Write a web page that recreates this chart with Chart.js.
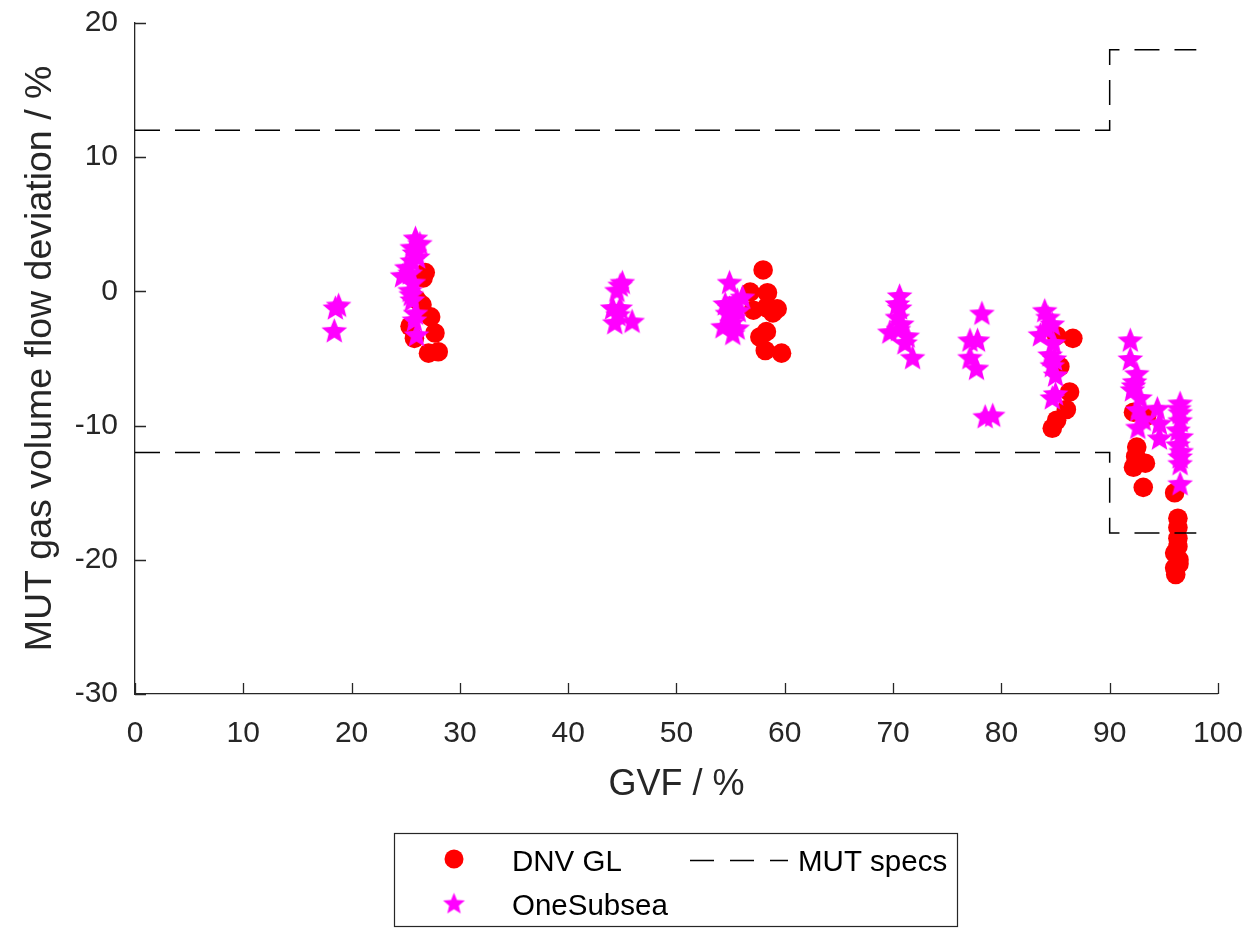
<!DOCTYPE html>
<html>
<head>
<meta charset="utf-8">
<title>MUT gas volume flow deviation</title>
<script src="https://cdn.jsdelivr.net/npm/chart.js@4.4.1/dist/chart.umd.min.js"></script>
<style>
  html, body { margin: 0; padding: 0; background: #fff; }
  canvas { display: block; }
</style>
</head>
<body>
<canvas id="chart" width="1256" height="929"></canvas>
<script>
// DNV GL measurements (GVF %, deviation %)
const dnvGvf = [
  26.8, 26.6, 26.0, 26.5, 27.3, 25.4, 27.7, 25.8, 28.0, 27.1,
  58.0, 56.8, 58.4, 57.1, 58.3, 59.3, 58.9, 57.7, 58.3, 58.2, 59.7,
  85.1, 86.6, 85.4, 86.3, 86.0, 85.1, 84.7,
  92.2, 93.4, 92.5, 92.4, 93.3, 92.2, 93.1,
  96.0, 96.3, 96.3, 96.3, 96.3, 96.0, 96.4, 96.0, 96.1, 96.4
];
const dnvDev = [
  1.4, 1.0, -0.6, -1.0, -1.9, -2.6, -3.1, -3.5, -4.5, -4.6,
  1.6, -0.05, -0.1, -1.4, -1.2, -1.3, -1.6, -3.4, -3.0, -4.4, -4.6,
  -3.3, -3.5, -5.6, -7.5, -8.8, -9.6, -10.2,
  -9.0, -9.3, -11.6, -12.3, -12.8, -13.1, -14.6,
  -15.0, -16.9, -17.6, -18.4, -19.0, -19.5, -20.0, -20.6, -21.1, -20.3
];

// OneSubsea measurements (GVF %, deviation %)
const oneGvf = [
  18.5, 18.8, 18.4,
  25.9, 25.6, 25.8, 25.6, 26.1, 25.1, 24.7, 25.4, 25.7, 25.4, 25.6, 25.9, 25.8, 26.0, 26.3, 25.5,
  44.8, 44.5, 44.1, 44.8, 44.3, 45.9, 44.6, 45.0,
  54.9, 54.5, 55.6, 56.1, 54.7, 55.1, 54.3, 55.2, 55.7, 54.9, 55.3, 55.6,
  70.6, 70.6, 70.4, 70.8, 69.7, 71.3, 71.1, 71.8, 70.4, 70.5,
  78.2, 77.1, 77.8, 77.1, 77.7, 78.5, 79.2,
  84.0, 84.3, 84.7, 83.6, 84.8, 84.5, 84.7, 85.0, 85.0, 84.7, 84.2, 84.9,
  91.9, 91.9, 92.5, 92.3, 92.1, 92.8, 92.6, 92.6, 93.1, 94.4, 94.6, 94.6, 92.2,
  96.5, 96.5, 96.5, 96.3, 96.6, 96.3, 96.5, 96.5, 96.5, 96.4, 96.6
];
const oneDev = [
  -1.2, -1.0, -2.9,
  4.0, 3.3, 2.9, 2.3, 2.6, 1.8, 1.2, 1.4, 0.7, 0.1, -0.6, -1.6, -2.1, -3.2, 3.6, -0.2,
  0.5, 0.1, -1.2, -1.2, -2.3, -2.2, -1.7, 0.7,
  0.7, -0.9, -0.6, -0.4, -1.6, -2.3, -2.6, -3.1, -1.4, -1.2, -1.9, -2.7,
  -0.3, -1.2, -1.9, -2.4, -3.0, -3.3, -3.8, -4.9, -0.9, -2.8,
  -1.6, -3.6, -3.6, -4.9, -5.7, -9.3, -9.2,
  -1.4, -1.9, -2.4, -3.2, -3.8, -4.7, -5.5, -6.2, -7.6, -7.9, -2.8, -5.0,
  -3.6, -5.0, -6.1, -6.7, -7.3, -7.9, -8.8, -10.1, -9.5, -8.7, -9.8, -10.9, -7.0,
  -8.3, -9.0, -9.6, -10.3, -10.8, -11.4, -12.3, -12.8, -14.3, -8.7, -11.9
];

// MUT specification limits
const specGvf = [0, 90, 90, 98];
const specUpper = [12, 12, 18, 18];
const specLower = [-12, -12, -18, -18];

const xTicks = [0, 10, 20, 30, 40, 50, 60, 70, 80, 90, 100];
const yTicks = [-30, -20, -10, 0, 10, 20];

const legendLabels = ['DNV GL', 'OneSubsea', 'MUT specs'];

const axisColor = '#262626';
const fontFamily = '"Liberation Sans", Arial, Helvetica, sans-serif';

function makeStar(r, color) {
  const c = document.createElement('canvas');
  const size = Math.ceil(r * 2 + 2);
  c.width = size;
  c.height = size;
  const g = c.getContext('2d');
  const cx = size / 2, cy = size / 2 + r * 0.1;
  const ri = r * 0.44;
  g.beginPath();
  for (let i = 0; i < 10; i++) {
    const rad = i % 2 ? ri : r;
    const a = -Math.PI / 2 + i * Math.PI / 5;
    g.lineTo(cx + rad * Math.cos(a), cy + rad * Math.sin(a));
  }
  g.closePath();
  g.fillStyle = color;
  g.fill();
  return c;
}

const starMarker = makeStar(13.5, '#ff00ff');
const starLegend = makeStar(11.5, '#ff00ff');

const toPoints = (xs, ys) => xs.map((x, i) => ({ x: x, y: ys[i] }));

// matlab-ish inward tick marks
const inwardTicks = {
  id: 'inwardTicks',
  afterDraw(chart) {
    const { ctx, chartArea } = chart;
    const xs = chart.scales.x, ys = chart.scales.y;
    ctx.save();
    ctx.strokeStyle = axisColor;
    ctx.lineWidth = 1.3;
    ctx.beginPath();
    xTicks.forEach(v => {
      const px = Math.round(xs.getPixelForValue(v)) + 0.5;
      ctx.moveTo(px, chartArea.bottom);
      ctx.lineTo(px, chartArea.bottom - 11);
    });
    yTicks.forEach(v => {
      const py = Math.round(ys.getPixelForValue(v)) + 0.5;
      ctx.moveTo(chartArea.left, py);
      ctx.lineTo(chartArea.left + 11, py);
    });
    ctx.stroke();
    ctx.restore();
  }
};

// two column legend box under the plot
const boxLegend = {
  id: 'boxLegend',
  afterDraw(chart) {
    const ctx = chart.ctx;
    ctx.save();
    ctx.fillStyle = '#fff';
    ctx.fillRect(394, 833, 564, 94);
    ctx.strokeStyle = axisColor;
    ctx.lineWidth = 1.2;
    ctx.strokeRect(394.5, 833.5, 563, 93);

    ctx.fillStyle = '#ff0000';
    ctx.beginPath();
    ctx.arc(454, 859, 9.5, 0, Math.PI * 2);
    ctx.fill();
    ctx.drawImage(starLegend, 454 - starLegend.width / 2, 903 - starLegend.height / 2);

    ctx.strokeStyle = '#000';
    ctx.lineWidth = 1.5;
    ctx.setLineDash([24, 16]);
    ctx.beginPath();
    ctx.moveTo(690, 860.5);
    ctx.lineTo(788, 860.5);
    ctx.stroke();
    ctx.setLineDash([]);

    ctx.fillStyle = '#000';
    ctx.font = '29.5px ' + fontFamily;
    ctx.textBaseline = 'alphabetic';
    ctx.textAlign = 'left';
    ctx.fillText(legendLabels[0], 512, 870.5);
    ctx.fillText(legendLabels[1], 512, 914.5);
    ctx.fillText(legendLabels[2], 798, 871);
    ctx.restore();
  }
};

new Chart(document.getElementById('chart'), {
  type: 'scatter',
  data: {
    datasets: [
      {
        label: legendLabels[0],
        data: toPoints(dnvGvf, dnvDev),
        pointStyle: 'circle',
        pointRadius: 9.8,
        backgroundColor: '#ff0000',
        borderColor: '#ff0000',
        borderWidth: 0,
        order: 3
      },
      {
        label: legendLabels[1],
        data: toPoints(oneGvf, oneDev),
        pointStyle: starMarker,
        pointRadius: 13.5,
        backgroundColor: '#ff00ff',
        borderColor: '#ff00ff',
        order: 2
      },
      {
        label: legendLabels[2],
        data: toPoints(specGvf, specUpper),
        showLine: true,
        borderColor: '#000',
        borderWidth: 1.5,
        borderDash: [25, 15],
        pointRadius: 0,
        fill: false,
        order: 1
      },
      {
        label: legendLabels[2] + ' (lower)',
        data: toPoints(specGvf, specLower),
        showLine: true,
        borderColor: '#000',
        borderWidth: 1.5,
        borderDash: [25, 15],
        pointRadius: 0,
        fill: false,
        order: 1
      }
    ]
  },
  options: {
    responsive: false,
    animation: false,
    events: [],
    layout: { padding: { top: 23, right: 38, bottom: 0, left: 0 } },
    plugins: {
      legend: { display: false },
      tooltip: { enabled: false }
    },
    scales: {
      x: {
        type: 'linear',
        min: 0,
        max: 100,
        afterBuildTicks: s => { s.ticks = xTicks.map(v => ({ value: v })); },
        afterFit: s => { s.height = 235; },
        grid: { drawOnChartArea: false, drawTicks: false },
        border: { display: true, color: axisColor, width: 1.3 },
        ticks: {
          color: axisColor,
          padding: 13,
          maxRotation: 0,
          font: { family: fontFamily, size: 30, lineHeight: 1.77 }
        },
        title: {
          display: true,
          text: 'GVF / %',
          color: axisColor,
          font: { family: fontFamily, size: 36 },
          padding: { top: 0, bottom: 122 }
        }
      },
      y: {
        type: 'linear',
        min: -30,
        max: 20,
        afterBuildTicks: s => { s.ticks = yTicks.map(v => ({ value: v })); },
        afterFit: s => { s.width = 135; },
        grid: { drawOnChartArea: false, drawTicks: false },
        border: { display: true, color: axisColor, width: 1.3 },
        ticks: {
          color: axisColor,
          padding: 17,
          font: { family: fontFamily, size: 30, lineHeight: 0.4 }
        },
        title: {
          display: true,
          text: 'MUT gas volume flow deviation / %',
          color: axisColor,
          font: { family: fontFamily, size: 37.5 },
          padding: { top: 18, bottom: 0 }
        }
      }
    }
  },
  plugins: [inwardTicks, boxLegend]
});
</script>
</body>
</html>
